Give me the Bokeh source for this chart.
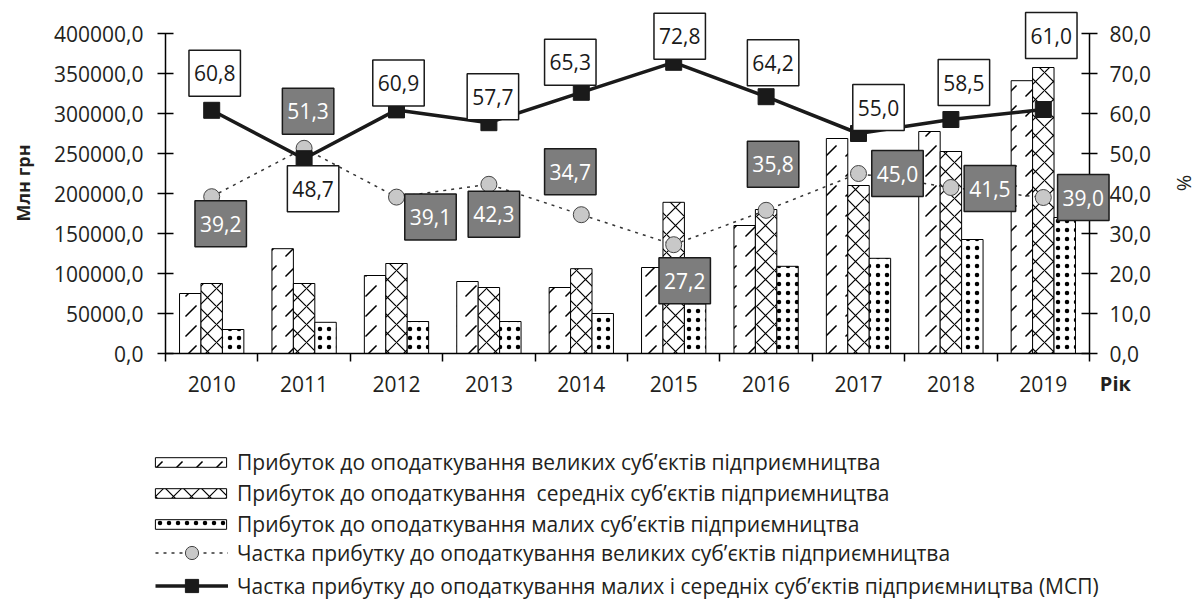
import numpy as np
from bokeh.plotting import figure
from bokeh.layouts import column
from bokeh.models import (ColumnDataSource, Range1d, LinearAxis, FixedTicker,
                          Legend, LegendItem)
from bokeh.core.properties import value
from bokeh.transform import dodge
from bokeh.embed import file_html
from bokeh.resources import INLINE

# ---------------- data ----------------
years = ["2010", "2011", "2012", "2013", "2014", "2015", "2016", "2017", "2018", "2019"]
profit_large = [75000, 131000, 97500, 90000, 82500, 107500, 160000, 268750, 277500, 341000]
profit_medium = [87500, 87500, 112500, 82500, 106000, 189000, 180000, 210000, 252500, 357500]
profit_small = [30000, 39000, 40000, 40000, 50000, 62000, 109000, 119000, 142500, 170000]
share_large = [39.2, 51.3, 39.1, 42.3, 34.7, 27.2, 35.8, 45.0, 41.5, 39.0]
share_msp = [60.8, 48.7, 60.9, 57.7, 65.3, 72.8, 64.2, 55.0, 58.5, 61.0]
left_ticks = [0, 50000, 100000, 150000, 200000, 250000, 300000, 350000, 400000]
right_ticks = [0, 10, 20, 30, 40, 50, 60, 70, 80]

legend_labels = [
    "Прибуток до оподаткування великих суб’єктів підприємництва",
    "Прибуток до оподаткування  середніх суб’єктів підприємництва",
    "Прибуток до оподаткування малих суб’єктів підприємництва",
    "Частка прибутку до оподаткування великих суб’єктів підприємництва",
    "Частка прибутку до оподаткування малих і середніх суб’єктів підприємництва (МСП)",
]

# label box offsets (screen px) relative to their points
msp_dx = [3, 9, 2, 4, -11, 6, 7, 20, 13, 8]
msp_dy = [-37, 30, -27, -26, -30, -26, -34, -26, -37, -74]
lg_dx = [9, 4, 34, 5, -11, 11, 7, 39, 39, 40]
lg_dy = [27, -37, 20, 30, -43, 36, -46, 0, 1, 0]

FONT = "Open Sans"
TXT = "#231f20"

n = len(years)
xc = np.arange(n) + 0.5
bw = 0.232

src = ColumnDataSource(dict(
    x=xc, large=profit_large, medium=profit_medium, small=profit_small,
    sl=share_large, sm=share_msp,
    sl_t=[f"{v:.1f}".replace(".", ",") for v in share_large],
    sm_t=[f"{v:.1f}".replace(".", ",") for v in share_msp],
    msp_dx=msp_dx, msp_dy=msp_dy, lg_dx=lg_dx, lg_dy=lg_dy,
))

p = figure(width=1200, height=402, output_backend="svg", toolbar_location=None,
           x_range=Range1d(0, n), y_range=Range1d(0, 426250),
           min_border_left=165, min_border_right=109, min_border_top=12, min_border_bottom=49)
p.frame_align = False
p.extra_y_ranges = {"pct": Range1d(0, 85.25)}
p.xgrid.visible = False
p.ygrid.visible = False
p.outline_line_color = None
p.background_fill_color = "white"
p.border_fill_color = "white"

# ---- axes ----
xa = p.xaxis[0]
xa.ticker = FixedTicker(ticks=list(xc), minor_ticks=list(range(n + 1)))
xa.major_label_overrides = {float(v): y for v, y in zip(xc, years)}
xa.major_tick_in = 0
xa.major_tick_out = 0
xa.minor_tick_in = 0
xa.minor_tick_out = 8
xa.minor_tick_line_color = "black"
xa.minor_tick_line_width = 1.5
xa.axis_line_width = 1.5
xa.axis_line_color = "black"
xa.major_label_standoff = 14
xa.major_label_text_font = FONT
xa.major_label_text_font_size = "21px"
xa.major_label_text_color = TXT

ya = p.yaxis[0]
ya.ticker = FixedTicker(ticks=left_ticks, minor_ticks=[])
ya.major_label_overrides = {t: f"{t:.1f}".replace(".", ",") for t in left_ticks}
ya.bounds = (left_ticks[0], left_ticks[-1])
ya.axis_label = "Млн грн"

yb = LinearAxis(y_range_name="pct", ticker=FixedTicker(ticks=right_ticks, minor_ticks=[]))
yb.major_label_overrides = {t: f"{t:.1f}".replace(".", ",") for t in right_ticks}
yb.bounds = (right_ticks[0], right_ticks[-1])
yb.axis_label = "%"
p.add_layout(yb, "right")

for ax in (ya, yb):
    ax.major_tick_in = 8
    ax.major_tick_out = 8
    ax.minor_tick_in = 0
    ax.minor_tick_out = 0
    ax.major_tick_line_width = 1.5
    ax.major_tick_line_color = "black"
    ax.axis_line_width = 1.5
    ax.axis_line_color = "black"
    ax.major_label_text_font = FONT
    ax.major_label_text_font_size = "21px"
    ax.major_label_text_color = TXT
    ax.axis_label_text_font = FONT
    ax.axis_label_text_color = TXT
    ax.axis_label_text_font_style = "normal"
ya.major_label_standoff = 14
yb.major_label_standoff = 12
ya.axis_label_text_font_style = "bold"
ya.axis_label_text_font_size = "18px"
ya.axis_label_standoff = 16
yb.axis_label_text_font_size = "20px"
yb.axis_label_standoff = 17

# ---- bars ----
large_style = dict(fill_color="white", line_color="black", line_width=1, hatch_color="black",
                   hatch_pattern="right_diagonal_dash", hatch_scale=20, hatch_weight=1.5)
medium_style = dict(fill_color="white", line_color="black", line_width=1, hatch_color="black",
                    hatch_pattern="diagonal_cross", hatch_scale=18, hatch_weight=1.2)
small_style = dict(fill_color="white", line_color="black", line_width=1, hatch_color="black",
                   hatch_pattern="dot", hatch_scale=9, hatch_weight=5)
p.vbar(x=dodge("x", -bw), top="large", width=bw, source=src, **large_style)
p.vbar(x="x", top="medium", width=bw, source=src, **medium_style)
p.vbar(x=dodge("x", bw), top="small", width=bw, source=src, **small_style)

# ---- lines ----
ll_style = dict(line_color="#333333", line_width=1.5, line_dash="3 5")
lc_style = dict(marker="circle", size=16, fill_color="#c8c8c8", line_color="#444444", line_width=1)
ml_style = dict(line_color="#1a1a1a", line_width=3.5)
ms_style = dict(marker="square", size=16, fill_color="#1a1a1a", line_color="#1a1a1a")
p.line("x", "sl", source=src, y_range_name="pct", **ll_style)
p.scatter("x", "sl", source=src, y_range_name="pct", **lc_style)
p.line("x", "sm", source=src, y_range_name="pct", **ml_style)
p.scatter("x", "sm", source=src, y_range_name="pct", **ms_style)

# ---- value labels ----
pad = dict(left=5, right=5, top=15, bottom=15)
p.text("x", "sm", text="sm_t", source=src, y_range_name="pct", x_offset="msp_dx", y_offset="msp_dy",
       text_align="center", text_baseline="middle", text_font=value(FONT), text_font_size="21px",
       text_color="#1a1a1a", background_fill_color="white", border_line_color="#1a1a1a",
       border_line_width=1.5, padding=pad, level="overlay")
p.text("x", "sl", text="sl_t", source=src, y_range_name="pct", x_offset="lg_dx", y_offset="lg_dy",
       text_align="center", text_baseline="middle", text_font=value(FONT), text_font_size="21px",
       text_color="white", background_fill_color="#7d7d7d", border_line_color="#1a1a1a",
       border_line_width=1.5, padding=pad, level="overlay")

# ---- "Рік" (x-axis title at the axis end) ----
p.text(x=[10.28], y=[-37500], text=["Рік"], text_font=value(FONT), text_font_size="20px",
       text_font_style="bold", text_color=TXT, text_align="center", text_baseline="middle",
       level="overlay")

# ---------------- legend figure ----------------
# ranges far below/left of all data so its proxy renderers stay out of view
lp = figure(width=1200, height=208, output_backend="svg", toolbar_location=None,
            x_range=Range1d(-1001, -1000), y_range=Range1d(-1001, -1000),
            x_axis_type=None, y_axis_type=None,
            min_border=0, min_border_left=0, min_border_right=0, min_border_top=0,
            min_border_bottom=0)
lp.frame_align = False
lp.xgrid.visible = False
lp.ygrid.visible = False
lp.outline_line_color = None
lp.border_fill_color = "white"
lp.background_fill_color = "white"

g1 = lp.vbar(x="x", top="large", width=bw, source=src, **large_style)
g2 = lp.vbar(x="x", top="medium", width=bw, source=src, **medium_style)
g3 = lp.vbar(x="x", top="small", width=bw, source=src, **small_style)
g4a = lp.line("x", "sl", source=src, **ll_style)
g4b = lp.scatter("x", "sl", source=src, **lc_style)
g5a = lp.line("x", "sm", source=src, **ml_style)
g5b = lp.scatter("x", "sm", source=src, **ms_style)

leg_style = dict(padding=0, margin=0, border_line_color=None, background_fill_alpha=0,
                 label_text_font=FONT, label_text_font_size="21px", label_text_color=TXT,
                 label_height=20)
leg1 = Legend(items=[LegendItem(label=legend_labels[0], renderers=[g1]),
                     LegendItem(label=legend_labels[1], renderers=[g2]),
                     LegendItem(label=legend_labels[2], renderers=[g3])],
              location=(146, 72), glyph_width=89, glyph_height=12, spacing=3,
              label_standoff=2, **leg_style)
leg2 = Legend(items=[LegendItem(label=legend_labels[3], renderers=[g4a, g4b]),
                     LegendItem(label=legend_labels[4], renderers=[g5a, g5b])],
              location=(155, 8), glyph_width=73, glyph_height=33, spacing=0,
              label_standoff=9, **leg_style)
lp.add_layout(leg1)
lp.add_layout(leg2)

layout = column(p, lp, spacing=0)
open("out.html", "w").write(file_html(layout, INLINE))
